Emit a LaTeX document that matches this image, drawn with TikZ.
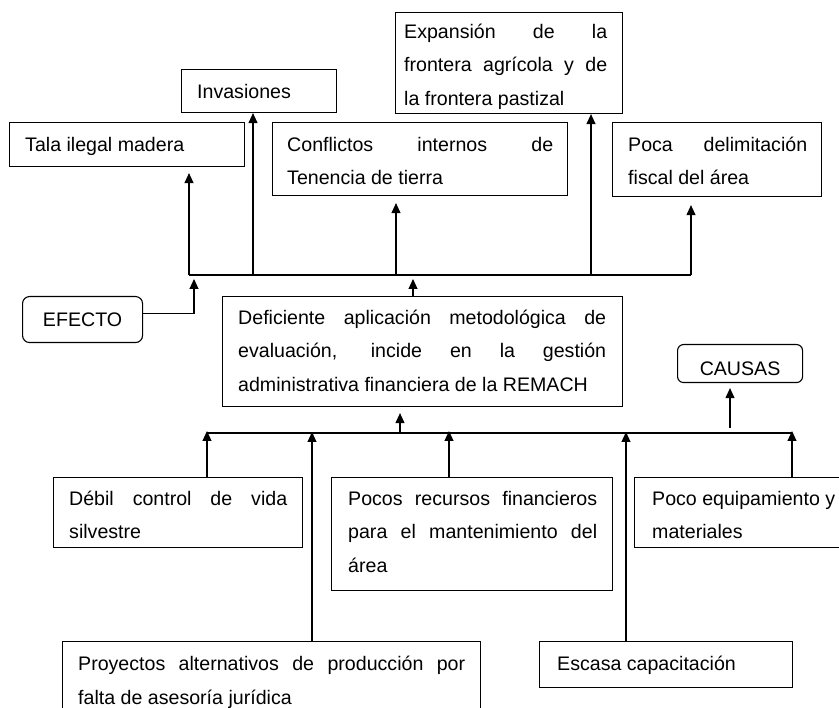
\documentclass[tikz,border=0pt]{standalone}
\usepackage{fontspec}
\setmainfont{Liberation Sans}
\usetikzlibrary{arrows.meta}
\newcommand\fs{\spaceskip=0pt\xspaceskip=0pt\rule{0pt}{19pt}}
\newcommand\J[2]{\makebox[#1pt][s]{\spaceskip=0pt\xspaceskip=0pt #2}}
\tikzset{
  box/.style={draw, line width=1.1pt, inner sep=0pt, anchor=north west},
  rbox/.style={box, rounded corners=7pt, font=\fontsize{19.6pt}{34pt}\selectfont},
  txt/.style={inner sep=0pt, anchor=north west, align=left, font=\fontsize{19.6pt}{33.8pt}\selectfont},
  arr/.style={line width=1.1pt, -{Triangle[length=10pt,width=9pt]}},
  ln/.style={line width=1.1pt}
}
\begin{document}
\begin{tikzpicture}[x=1pt,y=-1pt]
\useasboundingbox (0,0) rectangle (839,708);
\clip (0,0) rectangle (839,708);
% effect boxes
\node[box, minimum width=235pt, minimum height=44pt] (tala) at (9,122) {};
\node[txt, text width=200pt] (talaT) at (25,132) {\fs Tala ilegal madera};
\node[box, minimum width=155pt, minimum height=43pt] (inv) at (181,69) {};
\node[txt, text width=130pt] (invT) at (197,79) {\fs Invasiones};
\node[box, minimum width=227pt, minimum height=101pt] (exp) at (395,12) {};
\begin{scope}
\clip (395,12) rectangle (622,113);
\node[txt, text width=203pt] (expT) at (404,19) {\fs\J{203}{Expansión de la}\\ \J{203}{frontera agrícola y de}\\ la frontera pastizal};
\end{scope}
\node[box, minimum width=295pt, minimum height=73pt] (conf) at (272,122) {};
\node[txt, text width=266pt] (confT) at (287,132) {\fs\J{266}{Conflictos internos de}\\ Tenencia de tierra};
\node[box, minimum width=209pt, minimum height=74pt] (poca) at (612,122) {};
\node[txt, text width=179pt] (pocaT) at (628,132) {\fs\J{179}{Poca delimitación}\\ fiscal del área};
% labels
\node[rbox, minimum width=120pt, minimum height=46pt] (efecto) at (22,296) {EFECTO};
\node[rbox, minimum width=125pt, minimum height=38pt, text height=24pt, text depth=0pt, rounded corners=6pt] (causas) at (677,344) {CAUSAS};
% central
\node[box, minimum width=400pt, minimum height=110pt] (cent) at (222,296) {};
\node[txt, text width=368pt] (centT) at (238,305) {\fs\J{368}{Deficiente aplicación metodológica de}\\ \J{368}{evaluación, incide en la gestión}\\ administrativa financiera de la REMACH};
% cause boxes
\node[box, minimum width=249pt, minimum height=70pt] (debil) at (53,477) {};
\node[txt, text width=218pt] (debilT) at (69,486) {\fs\J{218}{Débil control de vida}\\ silvestre};
\node[box, minimum width=281pt, minimum height=113pt] (pocos) at (331,477) {};
\node[txt, text width=249pt] (pocosT) at (348,486) {\fs\J{249}{Pocos recursos financieros}\\ \J{249}{para el mantenimiento del}\\ área};
\node[box, minimum width=230pt, minimum height=70pt] (equip) at (634,477) {};
\node[txt, text width=200pt] (equipT) at (652,486) {\fs Poco equipamiento y\\ materiales};
\node[box, minimum width=418pt, minimum height=90pt] (proy) at (62,641) {};
\node[txt, text width=387pt] (proyT) at (78,651) {\fs\J{387}{Proyectos alternativos de producción por}\\ falta de asesoría jurídica};
\node[box, minimum width=253pt, minimum height=46pt] (escasa) at (539,641) {};
\node[txt, text width=220pt] (escasaT) at (557,651) {\fs Escasa capacitación};
% effect connectors
\coordinate (e1) at (189,275);
\coordinate (e2) at (253,275);
\coordinate (e3) at (396,275);
\coordinate (e4) at (591,275);
\coordinate (e5) at (691,275);
\draw[ln] (e1) -- (e5);
\draw[arr] (e1) -- ([yshift=-6pt]tala.south -| e1);
\draw[arr] (e2) -- (inv.south -| e2);
\draw[arr] (e3) -- ([yshift=-7pt]conf.south -| e3);
\draw[arr] (e4) -- (exp.south -| e4);
\draw[arr] (e5) -- ([yshift=-8pt]poca.south -| e5);
\coordinate (cu) at (413,279);
\draw[arr] (cent.north -| cu) -- (cu);
\coordinate (ef) at (194,279);
\draw[arr] ([yshift=6pt]efecto.east) -| (ef);
% cause connectors
\coordinate (cL) at (207,433);
\coordinate (cR) at (792,433);
\draw[ln] (cL) -- (cR);
\coordinate (d1) at (207,431);
\coordinate (d2) at (312,432);
\coordinate (d3) at (449,431);
\coordinate (d4) at (626,432);
\coordinate (d5) at (792,431);
\draw[arr] (debil.north -| d1) -- (d1);
\draw[arr] (proy.north -| d2) -- (d2);
\draw[arr] (pocos.north -| d3) -- (d3);
\draw[arr] (escasa.north -| d4) -- (d4);
\draw[arr] (equip.north -| d5) -- (d5);
\coordinate (cc) at (400,433);
\draw[arr] (cc) -- ([yshift=-6pt]cent.south -| cc);
\coordinate (ca) at (730,428);
\draw[arr] (ca) -- ([yshift=-5pt]causas.south -| ca);
\end{tikzpicture}
\end{document}
